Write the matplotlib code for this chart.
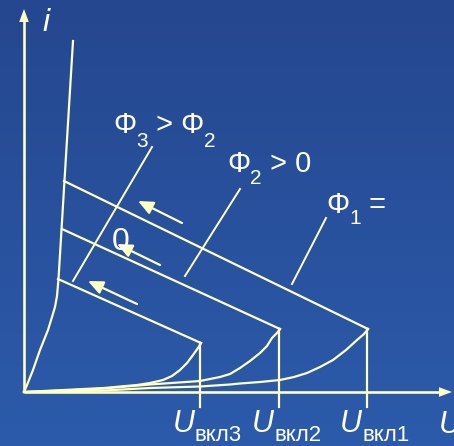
import numpy as np
import matplotlib
matplotlib.use("Agg")
import matplotlib.pyplot as plt
from matplotlib.colors import LinearSegmentedColormap

# ---- characteristic data (U to the right, i upward; diagram units) ----
# on-state branch
U_on = [0, 3, 9, 16, 20, 24, 28, 31, 33, 34.5, 49]
i_on = [0, 7, 22, 42, 52, 62, 75, 85, 96, 113, 351]

# forward-blocking branches for each illumination level
U_block1 = [0, 80, 126, 176, 206, 216, 236, 256, 270, 283, 296, 309, 322, 333, 340, 344]
i_block1 = [0, 1.5, 4, 5.5, 7.5, 8.5, 10, 12, 15, 19, 25, 32, 42, 52, 58, 63]
U_block2 = [0, 40, 80, 126, 176, 196, 206, 216, 226, 236, 243, 248, 253, 256]
i_block2 = [0, 1.5, 3.5, 7.5, 11, 15, 18, 24, 31, 39, 46, 54, 59, 63]
U_block3 = [0, 40, 80, 113, 126, 139, 148, 156, 163, 169, 174, 177]
i_block3 = [0, 2, 4, 7, 9, 12, 16, 22, 29, 37, 44, 49]

# switching (breakover) voltages and currents, holding points
U_switch = [344, 256, 177]
i_switch = [63, 63, 49]
U_hold = [40, 38, 34]
i_hold = [211, 163, 113]
switch_labels = ["вкл1", "вкл2", "вкл3"]

LINE = "#FFFFC4"
TXT = "white"
FONT = "Liberation Sans"

fig = plt.figure(figsize=(4.54, 4.46), dpi=100)
ax = fig.add_axes([0, 0, 1, 1])
ax.set_xlim(-24, 430)
ax.set_ylim(-54, 392)
ax.axis("off")

# background gradient
cmap = LinearSegmentedColormap.from_list("bg", ["#2c5bab", "#25478f"])
grad = np.linspace(0, 1, 256).reshape(-1, 1)
ax.imshow(grad, extent=(-24, 430, -54, 392), origin="lower", cmap=cmap,
          aspect="auto", zorder=0)

lw = 1.6
# axes with arrowheads
ax.plot([0, 0], [0, 372], color=LINE, lw=1.9, zorder=2, solid_capstyle="butt")
ax.plot([0, 418], [0, 0], color=LINE, lw=1.9, zorder=2, solid_capstyle="butt")
ax.fill([-4.8, 4.8, 0], [370, 370, 383], color=LINE, lw=0, zorder=3)
ax.fill([415, 415, 428], [4.8, -4.8, 0], color=LINE, lw=0, zorder=3)

# on-state branch
ax.plot(U_on, i_on, color=LINE, lw=lw, zorder=2, solid_joinstyle="round")

# blocking branches
for U, I in [(U_block1, i_block1), (U_block2, i_block2), (U_block3, i_block3)]:
    ax.plot(U, I, color=LINE, lw=lw, zorder=2, solid_joinstyle="round")

# negative-resistance segments and switching-voltage markers
for Us, Is, Uh, Ih in zip(U_switch, i_switch, U_hold, i_hold):
    ax.plot([Us, Uh], [Is, Ih], color=LINE, lw=lw, zorder=2)
    ax.plot([Us - 1, Us - 1], [Is, -15], color=LINE, lw=lw, zorder=2)

# direction arrows along the negative-resistance segments
arrows = [((158, 169), (114, 191)), ((136, 127), (93, 148)), ((113, 88), (64, 111))]
for (x0, y0), (x1, y1) in arrows:
    ax.annotate("", xy=(x1, y1), xytext=(x0, y0),
                arrowprops=dict(arrowstyle="-|>,head_length=0.9,head_width=0.4",
                                color=LINE, lw=lw, shrinkA=0, shrinkB=0),
                zorder=3)

# leader lines for the illumination labels
leaders = [((128, 245), (49, 111)), ((216, 203), (161, 116)), ((302, 174), (268, 108))]
for (x0, y0), (x1, y1) in leaders:
    ax.plot([x0, x1], [y0, y1], color=LINE, lw=1.4, zorder=2)

fig.canvas.draw()
renderer = fig.canvas.get_renderer()


def draw_runs(x, y, runs):
    """Draw consecutive text pieces: (text, size, dy, style)."""
    for text, size, dy, style in runs:
        t = ax.text(x, y + dy, text, fontsize=size, color=TXT, family=FONT,
                    style=style, ha="left", va="baseline", zorder=5)
        bb = t.get_window_extent(renderer=renderer)
        x += bb.width


MAIN, SUB = 21, 15
draw_runs(89, 259, [("Φ", MAIN, 0, "normal"), ("3", SUB, -14, "normal"),
                    (" > Φ", MAIN, 0, "normal"), ("2", SUB, -14, "normal")])
draw_runs(203, 220, [("Φ", MAIN, 0, "normal"), ("2", SUB, -12, "normal"),
                     (" > 0", MAIN, 0, "normal")])
draw_runs(302, 179, [("Φ", MAIN, 0, "normal"), ("1", SUB, -11, "normal"),
                     (" =", MAIN, 0, "normal")])
ax.text(88, 142, "0", fontsize=23, color=TXT, family=FONT, ha="left",
        va="baseline", zorder=5)

# axis names
ax.text(18, 361, "i", fontsize=23, color=TXT, family=FONT, style="italic",
        ha="left", va="baseline", zorder=5)
ax.text(415, -41, "U", fontsize=22, color=TXT, family=FONT, style="italic",
        ha="left", va="baseline", zorder=5)

# switching-voltage labels
for Us, lab in zip(U_switch, switch_labels):
    draw_runs(Us - 28, -40, [("U", 22, 0, "italic"), (lab, 16, -9, "normal")])

fig.savefig("out.png", dpi=100)
